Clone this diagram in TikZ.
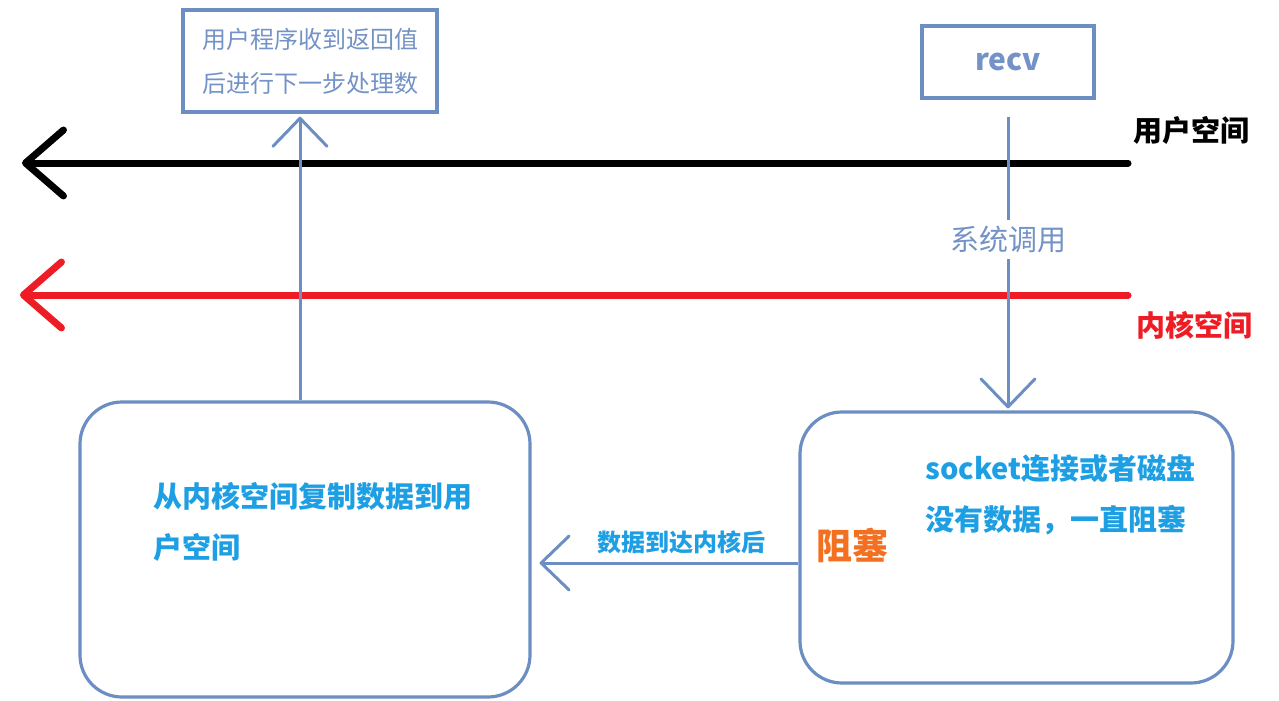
\documentclass[tikz,border=0pt]{standalone}
\usepackage{fontspec}
\setmainfont{Noto Sans CJK SC}
\usetikzlibrary{arrows.meta, positioning}
\definecolor{lineblue}{HTML}{6C8EC2}
\definecolor{textblue}{HTML}{1E9FE3}
\definecolor{softblue}{HTML}{7392C6}
\definecolor{kernred}{HTML}{EE1D25}
\definecolor{blockorange}{HTML}{F37021}
\tikzset{
  sqbox/.style={draw=lineblue, line width=1.75pt, inner sep=0pt},
  rbox/.style={draw=lineblue, line width=1.6pt, rounded corners=21pt, inner sep=0pt},
  flow/.style={draw=lineblue, line width=1.5pt, -{Straight Barb[length=14pt, width=27pt, round]}},
  bound/.style={line width=3.5pt, line cap=round, -{Straight Barb[length=19pt, width=33pt, round]}},
  note/.style={text=textblue, font=\bfseries\fontsize{14.5}{25.5}\selectfont, align=left, inner sep=0pt}
}
\begin{document}
\begin{tikzpicture}[x=0.5pt, y=-0.5pt]
  \useasboundingbox (0,0) rectangle (1279,701);
  % boundaries between the two spaces
  \coordinate (userL) at (22,163);
  \coordinate (userR) at (1128,163);
  \coordinate (kernL) at (20,295);
  \coordinate (kernR) at (1128,295);
  \draw[bound, black] (userR) -- (userL);
  \draw[bound, kernred] (kernR) -- (kernL);
  \node[font=\bfseries\fontsize{14.5}{16}\selectfont, anchor=west, inner sep=0pt] (userlbl) at (1133,130) {用户空间};
  \node[font=\bfseries\fontsize{14.5}{16}\selectfont, text=kernred, anchor=west, inner sep=0pt] (kernlbl) at (1136,325) {内核空间};
  % boxes
  \node[sqbox, minimum width=127pt, minimum height=51pt, text=softblue, align=center,
        font=\fontsize{12}{22}\selectfont] (done) at (310,61) {用户程序收到返回值\\后进行下一步处理数};
  \node[sqbox, minimum width=86pt, minimum height=36pt, text=softblue,
        font=\bfseries\fontsize{15}{16}\selectfont] (recv) at (1008,62) {recv};
  \node[rbox, minimum width=225pt, minimum height=147.5pt] (copy) at (305,549.5) {};
  \node[rbox, minimum width=216.5pt, minimum height=135.5pt] (block) at (1016.5,547.5) {};
  \node[note, anchor=west] (copytxt) at (153,522) {从内核空间复制数据到用\\户空间};
  \node[note, anchor=west] (blocktxt) at (925,495) {socket连接或者磁盘\\没有数据，一直阻塞};
  \node[text=blockorange, font=\bfseries\fontsize{18}{20}\selectfont, anchor=west, inner sep=0pt] (waitlbl) at (816,545) {阻塞};
  % connectors
  \draw[flow, shorten <=8.5pt, shorten >=1pt] (recv.south) -- (recv.south |- block.north)
    node[pos=0.45, fill=white, text=softblue, inner sep=3pt, font=\fontsize{14.5}{16}\selectfont] (syscall) {系统调用};
  \draw[flow, shorten >=4pt] ([yshift=-7.75pt]block.west) -- ([yshift=-7.75pt]block.west -| copy.east)
    node[midway, above=4pt, xshift=8pt, text=textblue, inner sep=0pt, font=\bfseries\fontsize{12}{14}\selectfont] (arrive) {数据到达内核后};
  \draw[flow, shorten >=1.5pt] ([xshift=-2.5pt]copy.north) -- ([xshift=-2.5pt]copy.north |- done.south);
\end{tikzpicture}
\end{document}
